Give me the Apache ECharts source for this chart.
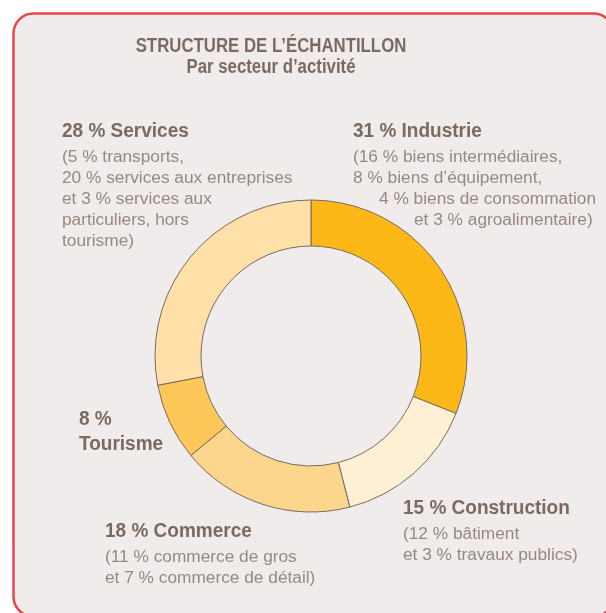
<!DOCTYPE html>
<html>
<head>
<meta charset="utf-8">
<script src="https://cdn.jsdelivr.net/npm/echarts@6/dist/echarts.min.js"></script>
<style>
  html, body { margin: 0; padding: 0; background: #ffffff; }
  #chart { width: 606px; height: 613px; }
</style>
</head>
<body>
<div id="chart"></div>
<script>
// slices, clockwise from 12 o'clock
const sectors = ['Industrie', 'Construction', 'Commerce', 'Tourisme', 'Services'];
const shares = [31, 15, 18, 8, 28];
const details = [
  ['(16 % biens intermédiaires,', '8 % biens d’équipement,', '4 % biens de consommation', 'et 3 % agroalimentaire)'],
  ['(12 % bâtiment', 'et 3 % travaux publics)'],
  ['(11 % commerce de gros', 'et 7 % commerce de détail)'],
  [],
  ['(5 % transports,', '20 % services aux entreprises', 'et 3 % services aux', 'particuliers, hors', 'tourisme)']
];
const titleLines = ['STRUCTURE DE L’ÉCHANTILLON', 'Par secteur d’activité'];

const sliceColors = ['#FBB817', '#FEF0D4', '#FDD68D', '#FEC75A', '#FEE0A8'];
const headColor = '#7b6a60';
const textColor = '#978880';
const sans = '"Liberation Sans", Arial, sans-serif';

// where each label block sits
const labelPos = [
  { x: 353, y: 131, indents: [0, 0, 26, 61] },
  { x: 403, y: 508 },
  { x: 105, y: 531 },
  { x: 79, y: 419, split: true },
  { x: 62, y: 131 }
];

const chart = echarts.init(document.getElementById('chart'));

const graphics = [{
  type: 'rect',
  shape: { x: 13.5, y: 13.5, width: 600, height: 603, r: 20 },
  style: { fill: '#F0ECEB', stroke: '#E8464A', lineWidth: 2.5 },
  z: 0, silent: true
}];

titleLines.forEach((t, i) => {
  graphics.push({
    type: 'text', x: 271, y: 46 + i * 21, z: 10, silent: true, scaleX: 0.84,
    style: { text: t, fill: headColor, font: 'bold 20px ' + sans, align: 'center', verticalAlign: 'middle' }
  });
});

sectors.forEach((name, i) => {
  const p = labelPos[i];
  const heads = p.split ? [shares[i] + ' %', name] : [shares[i] + ' % ' + name];
  heads.forEach((h, k) => {
    graphics.push({
      type: 'text', x: p.x, y: p.y + k * 25, z: 10, silent: true, scaleX: 0.95,
      style: { text: h, fill: headColor, font: 'bold 20px ' + sans, align: 'left', verticalAlign: 'middle' }
    });
  });
  details[i].forEach((line, k) => {
    graphics.push({
      type: 'text', x: p.x + (p.indents ? p.indents[k] : 0), y: p.y + 27 + k * 21, z: 10, silent: true, scaleX: 1.08,
      style: { text: line, fill: textColor, font: '16px ' + sans, align: 'left', verticalAlign: 'middle' }
    });
  });
});

chart.setOption({
  backgroundColor: '#ffffff',
  animation: false,
  graphic: graphics,
  series: [{
    type: 'pie',
    center: [311, 356],
    radius: [110, 156],
    startAngle: 90,
    clockwise: true,
    silent: true,
    z: 5,
    label: { show: false },
    labelLine: { show: false },
    itemStyle: { borderColor: '#7a6a5e', borderWidth: 1 },
    data: sectors.map((name, i) => ({ name, value: shares[i], itemStyle: { color: sliceColors[i] } }))
  }]
});
</script>
</body>
</html>
